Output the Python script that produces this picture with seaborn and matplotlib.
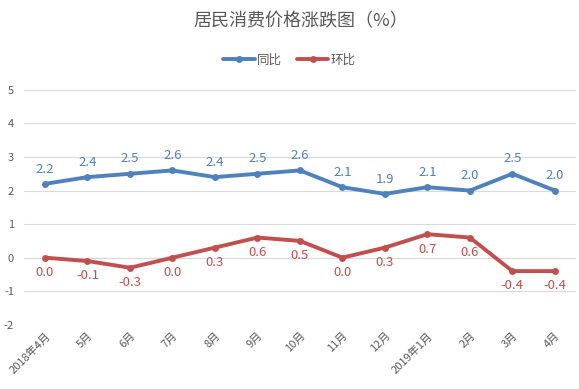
import matplotlib
matplotlib.use("Agg")
import matplotlib.pyplot as plt
import seaborn as sns
import pandas as pd
from matplotlib.lines import Line2D

months = ["2018年4月", "5月", "6月", "7月", "8月", "9月", "10月", "11月", "12月",
          "2019年1月", "2月", "3月", "4月"]
yoy = [2.2, 2.4, 2.5, 2.6, 2.4, 2.5, 2.6, 2.1, 1.9, 2.1, 2.0, 2.5, 2.0]
mom = [0.0, -0.1, -0.3, 0.0, 0.3, 0.6, 0.5, 0.0, 0.3, 0.7, 0.6, -0.4, -0.4]

df = pd.DataFrame({
    "idx": list(range(len(months))) * 2,
    "value": yoy + mom,
    "series": ["同比"] * len(months) + ["环比"] * len(months),
})

sns.set_theme(style="white")
plt.rcParams['font.family'] = ['Noto Sans CJK SC', 'DejaVu Sans']
plt.rcParams['axes.unicode_minus'] = False

blue = "#4F81BD"
red = "#C0504D"

fig = plt.figure(figsize=(5.79, 3.89), dpi=100)
ax = fig.add_axes([0.041, 0.165, 0.954, 0.604])
sns.lineplot(data=df, x="idx", y="value", hue="series", palette=[blue, red],
             marker="o", markersize=5, markeredgewidth=0, linewidth=2.8, ax=ax,
             legend=False)

for i, v in enumerate(yoy):
    ax.annotate(f"{v:.1f}", (i, v), xytext=(0, 6), textcoords="offset points",
                ha="center", va="bottom", fontsize=9.5, color=blue)
for i, v in enumerate(mom):
    ax.annotate(f"{v:.1f}", (i, v), xytext=(0, -6), textcoords="offset points",
                ha="center", va="top", fontsize=9.5, color=red)

ax.set_xlim(-0.5, len(months) - 0.5)
ax.set_ylim(-2, 5)
ax.set_yticks(range(-2, 6))
ax.set_xticks(range(len(months)))
ax.set_xticklabels(months, rotation=45, ha="right", rotation_mode="anchor",
                   fontsize=8, color="#595959")
ax.tick_params(axis="y", labelsize=8, labelcolor="#595959", length=0, pad=7)
ax.tick_params(axis="x", length=0, pad=4)
ax.set_xlabel("")
ax.set_ylabel("")
ax.grid(axis="y", color="#D9D9D9", linewidth=0.8)
for s in ax.spines.values():
    s.set_visible(False)

fig.text(0.52, 0.945, "居民消费价格涨跌图（%）", ha="center", va="center",
         fontsize=13, color="#595959")

handles = [Line2D([], [], color=blue, lw=2.8, marker="o", markersize=5, markeredgewidth=0),
           Line2D([], [], color=red, lw=2.8, marker="o", markersize=5, markeredgewidth=0)]
fig.legend(handles, ["同比", "环比"], loc="center", bbox_to_anchor=(0.5, 0.845),
           ncol=2, frameon=False, fontsize=9, handlelength=2.5, columnspacing=1.2,
           handletextpad=0.2, labelcolor="#595959")

fig.savefig("out.png", dpi=100)
